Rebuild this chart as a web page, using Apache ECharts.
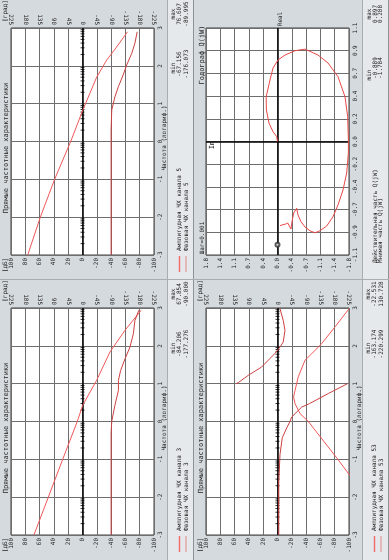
<!DOCTYPE html>
<html><head><meta charset="utf-8">
<script src="https://cdn.jsdelivr.net/npm/echarts@6/dist/echarts.min.js"></script>
<style>html,body{margin:0;padding:0;background:#d5dade;}#c{width:389px;height:560px;}</style>
</head><body><div id="c"></div>
<script>
// ---------- data ----------
const freqTicks = [-3,-2,-1,0,1,2,3];
const ch5AmpFreq = [-3,-2,-1,0,0.82,1.7,2.15,2.5,2.9];
const ch5Amp     = [76.6,59,39,16.5,-0.2,-19.8,-33.8,-47.8,-63];
const ch5PhFreq  = [-3,0.3,0.83,1.18,1.45,1.76,2.02,2.33,2.6,2.9];
const ch5Phase   = [-90,-90,-92,-102,-113,-128,-139,-155,-165,-172];

const ch3AmpFreq = [-3,-2,-1,0,0.43,1.09,1.84,2.41,2.94];
const ch3Amp     = [67.9,47.8,27.7,7.3,-0.3,-19.8,-38.5,-59.4,-82];
const ch3PhFreq  = [-3,-0.3,0,0.43,0.82,1.09,1.35,1.66,1.97,2.32,2.67,2.94];
const ch3Phase   = [-90,-90,-92,-102,-113,-113,-120,-134,-149.5,-160,-165,-177.3];

const ch53AmpFreq = [-3,-1.43,-0.96,0,0.21,0.47,0.65,0.82,1.18,1.62,1.79,2.06,2.5,2.98];
const ch53Amp     = [-163.2,-101.4,-82.8,-43.1,-31.5,-24.5,-22.5,-24.5,-29,-38.5,-47.8,-61.8,-80.4,-100];
const ch53PhFreqA = [-3,-1.6,-0.87,-0.43,-0.17,0,0.12,0.38,0.47,0.74,1.0];
const ch53PhaseA  = [-4,-4,-7.9,-15,-29,-39.3,-44.7,-76,-100,-160,-220.3];
const ch53PhFreqB = [1.0,1.03,1.22,1.44,1.8,1.97,2.1,2.41,2.67,2.98];
const ch53PhaseB  = [130.7,123,92,50,8,-8,-18,-23.6,-18,-8];

const nyqIm = [0,0.02,0.113,0.214,0.28,0.285,0.189,0.113,-0.013,-0.189,-0.441,-0.692,-1.02,-1.271,-1.523,-1.699,-1.767,-1.784,-1.784,-1.742,-1.649,-1.523,-1.397,-1.239,-1.07,-0.944,-0.818,-0.692,-0.592,-0.516,-0.483,-0.441,-0.408,-0.365,-0.34,-0.29,-0.257,-0.206,-0.113,-0.063];
const nyqRe = [0,0.047,0.095,0.179,0.305,0.434,0.596,0.712,0.79,0.838,0.88,0.895,0.838,0.761,0.628,0.434,0.24,0.014,-0.112,-0.305,-0.47,-0.615,-0.729,-0.819,-0.865,-0.885,-0.865,-0.829,-0.777,-0.712,-0.647,-0.654,-0.693,-0.777,-0.848,-0.829,-0.79,-0.8,-0.809,-0.816];
const critPoint = [[0,-1]];

const logMinor = [0.301,0.477,0.602,0.699,0.778,0.845,0.903,0.954];

const bodeTitle = 'Прямые частотные характеристики';
const freqName = 'Частота (логариф.)';
const ch5Legend = ['Амплитудная ЧХ канала 5','Фазовая ЧХ канала 5'];
const ch3Legend = ['Амплитудная ЧХ канала 3','Фазовая ЧХ канала 3'];
const ch53Legend = ['Амплитудная ЧХ канала 53','Фазовая ЧХ канала 53'];
const nyqLegend = ['Действительная часть Q(jW)','Мнимая часть Q(jW)'];
const ch5Min = ['-67.156','-176.073'], ch5Max = ['76.607','-89.995'];
const ch3Min = ['-84.206','-177.276'], ch3Max = ['67.854','-90.000'];
const ch53Min = ['-163.174','-220.299'], ch53Max = ['-22.531','130.728'];
const nyqMin = ['-0.889','-1.784'], nyqMax = ['0.897','0.288'];

// ---------- build ----------
const FONT = 'DejaVu Sans Mono';
const AMP_C = '#f05858', PH_C = '#cc4040', NYQ_C = '#e84848';
const GRID_C = '#6e6e6e';
const zip = (a,b) => a.map((v,i)=>[v,b[i]]);
const minorTicks = [];
freqTicks.slice(0,-1).forEach(d => logMinor.forEach(m => minorTicks.push([0, d+m])));

const cells = [
  {type:'bode', ox:0, oy:0, amp:zip(ch5Amp,ch5AmpFreq), ph:[zip(ch5Phase,ch5PhFreq)], leg:ch5Legend, mn:ch5Min, mx:ch5Max},
  {type:'nyq', ox:195, oy:0},
  {type:'bode', ox:0, oy:280, amp:zip(ch3Amp,ch3AmpFreq), ph:[zip(ch3Phase,ch3PhFreq)], leg:ch3Legend, mn:ch3Min, mx:ch3Max},
  {type:'bode', ox:195, oy:280, amp:zip(ch53Amp,ch53AmpFreq), ph:[zip(ch53PhaseA,ch53PhFreqA), zip(ch53PhaseB,ch53PhFreqB)], leg:ch53Legend, mn:ch53Min, mx:ch53Max}
];

const grid=[], xAxis=[], yAxis=[], series=[], graphic=[];
const lab = {rotate:90, fontSize:6, fontFamily:FONT, color:'#222', margin:3, showMinLabel:true, showMaxLabel:true};
function vtext(x,y,text,opt){
  opt = opt||{};
  return {type:'text', x:x, y:y, rotation:Math.PI/2, z:50, silent:true,
    style:{text:text, fill:opt.fill||'#222', font:(opt.size||6)+'px "'+FONT+'"', textAlign:opt.align||'center', textVerticalAlign:'middle'}};
}
function rect(x,y,w,h,fill){ return {type:'rect', shape:{x:x,y:y,width:w,height:h}, style:{fill:fill}, z:-100, silent:true}; }
function vline(x,y1,y2,color,w){ return {type:'line', shape:{x1:x,y1:y1,x2:x,y2:y2}, style:{stroke:color,lineWidth:w||1}, z:-50, silent:true}; }

cells.forEach((c,gi) => {
  const ox=c.ox, oy=c.oy;
  graphic.push(rect(ox+168, oy, 25, 280, '#e6e9eb'));
  graphic.push(vline(ox+167.5, oy, oy+280, '#a8adb0'));
  graphic.push(vline(ox+193.5, oy, oy+280, '#8c9296'));
  grid.push({left:ox+11, top:oy+28, width:143, height:227, show:true, backgroundColor:'#fff', borderColor:'#3c3c3c', borderWidth:1});
  if (c.type==='bode') {
    const xa = xAxis.length, ya = yAxis.length;
    xAxis.push({gridIndex:gi, type:'value', position:'bottom', min:-100, max:100, interval:20, inverse:true,
      axisLine:{show:false}, axisTick:{show:false}, axisLabel:lab, splitLine:{show:true, lineStyle:{color:GRID_C, width:1}}});
    xAxis.push({gridIndex:gi, type:'value', position:'top', min:-225, max:225, interval:45, inverse:true,
      axisLine:{show:false}, axisTick:{show:false}, axisLabel:lab, splitLine:{show:false}});
    yAxis.push({gridIndex:gi, type:'value', position:'right', min:-3, max:3, interval:1,
      axisLine:{show:false}, axisTick:{show:false}, axisLabel:lab, splitLine:{show:true, lineStyle:{color:GRID_C, width:1}}});
    series.push({type:'scatter', xAxisIndex:xa, yAxisIndex:ya, data:minorTicks, symbol:'rect', symbolSize:[4,1], itemStyle:{color:'#000'}, silent:true, z:3,
      markLine:{silent:true, symbol:'none', label:{show:false}, lineStyle:{color:'#000', width:1.5, type:'solid'}, data:[{xAxis:0}]}});
    series.push({type:'line', xAxisIndex:xa, yAxisIndex:ya, data:c.amp, showSymbol:false, lineStyle:{color:AMP_C, width:1}, z:5});
    c.ph.forEach(p => series.push({type:'line', xAxisIndex:xa+1, yAxisIndex:ya, data:p, showSymbol:false, lineStyle:{color:PH_C, width:1}, z:5}));
    graphic.push(vtext(ox+6, oy+148, bodeTitle, {size:7}));
    graphic.push(vtext(ox+5, oy+11, '[град]'));
    graphic.push(vtext(ox+5, oy+265, '[дБ]'));
    graphic.push(vtext(ox+164, oy+138, freqName));
    graphic.push(vtext(ox+173, oy+14, 'max'));
    graphic.push(vtext(ox+179.5, oy+14, c.mx[0]));
    graphic.push(vtext(ox+186, oy+14, c.mx[1]));
    graphic.push(vtext(ox+173, oy+68, 'min'));
    graphic.push(vtext(ox+179.5, oy+64, c.mn[0]));
    graphic.push(vtext(ox+186, oy+64, c.mn[1]));
    graphic.push({type:'line', shape:{x1:ox+179.5,y1:oy+256,x2:ox+179.5,y2:oy+272}, style:{stroke:'#f07070',lineWidth:1.5}, z:50});
    graphic.push({type:'line', shape:{x1:ox+186,y1:oy+256,x2:ox+186,y2:oy+272}, style:{stroke:'#e2a8a8',lineWidth:1.5}, z:50});
    graphic.push(vtext(ox+179.5, oy+251, c.leg[0], {align:'left'}));
    graphic.push(vtext(ox+186, oy+251, c.leg[1], {align:'left'}));
  } else {
    const xa = xAxis.length, ya = yAxis.length;
    const fmt = v => (Math.abs(v)<1e-9?0:v).toFixed(1);
    xAxis.push({gridIndex:gi, type:'value', position:'bottom', min:-1.8, max:1.8, interval:0.36, inverse:true,
      axisLine:{show:false}, axisTick:{show:false}, axisLabel:Object.assign({}, lab, {formatter:fmt}), splitLine:{show:true, lineStyle:{color:GRID_C, width:1}}});
    yAxis.push({gridIndex:gi, type:'value', position:'right', min:-1.1, max:1.1, interval:0.22,
      axisLine:{show:false}, axisTick:{show:false}, axisLabel:Object.assign({}, lab, {formatter:fmt}), splitLine:{show:true, lineStyle:{color:GRID_C, width:1}}});
    series.push({type:'line', xAxisIndex:xa, yAxisIndex:ya, data:zip(nyqIm,nyqRe), showSymbol:false, lineStyle:{color:NYQ_C, width:1}, z:5,
      markLine:{silent:true, symbol:'none', label:{show:false}, lineStyle:{color:'#000', width:1.5, type:'solid'}, data:[{xAxis:0},{yAxis:0}]}});
    series.push({type:'scatter', xAxisIndex:xa, yAxisIndex:ya, data:critPoint, symbol:'emptyCircle', symbolSize:4, itemStyle:{color:'#333', borderWidth:1}, z:6});
    graphic.push(vtext(ox+7, oy+55, 'Годограф Q(jW)', {size:7}));
    graphic.push(vtext(ox+7, oy+238, 'Шаг=0.001', {size:6}));
    graphic.push(vtext(ox+85, oy+19, 'Real'));
    graphic.push(vtext(ox+17, oy+145, 'Im', {size:7}));
    graphic.push(vtext(ox+174, oy+14, 'max'));
    graphic.push(vtext(ox+180, oy+14, nyqMax[0]));
    graphic.push(vtext(ox+185.5, oy+14, nyqMax[1]));
    graphic.push(vtext(ox+174, oy+75, 'min'));
    graphic.push(vtext(ox+180, oy+68, nyqMin[0]));
    graphic.push(vtext(ox+185.5, oy+68, nyqMin[1]));
    graphic.push(vtext(ox+180, oy+263, nyqLegend[0], {align:'left'}));
    graphic.push(vtext(ox+185.5, oy+263, nyqLegend[1], {align:'left'}));
  }
});
graphic.push({type:'line', shape:{x1:0,y1:279.5,x2:389,y2:279.5}, style:{stroke:'#a8adb0',lineWidth:1}, z:-50, silent:true});

const chart = echarts.init(document.getElementById('c'), null, {renderer:'canvas'});
chart.setOption({animation:false, backgroundColor:'transparent', grid, xAxis, yAxis, series, graphic});
</script></body></html>
